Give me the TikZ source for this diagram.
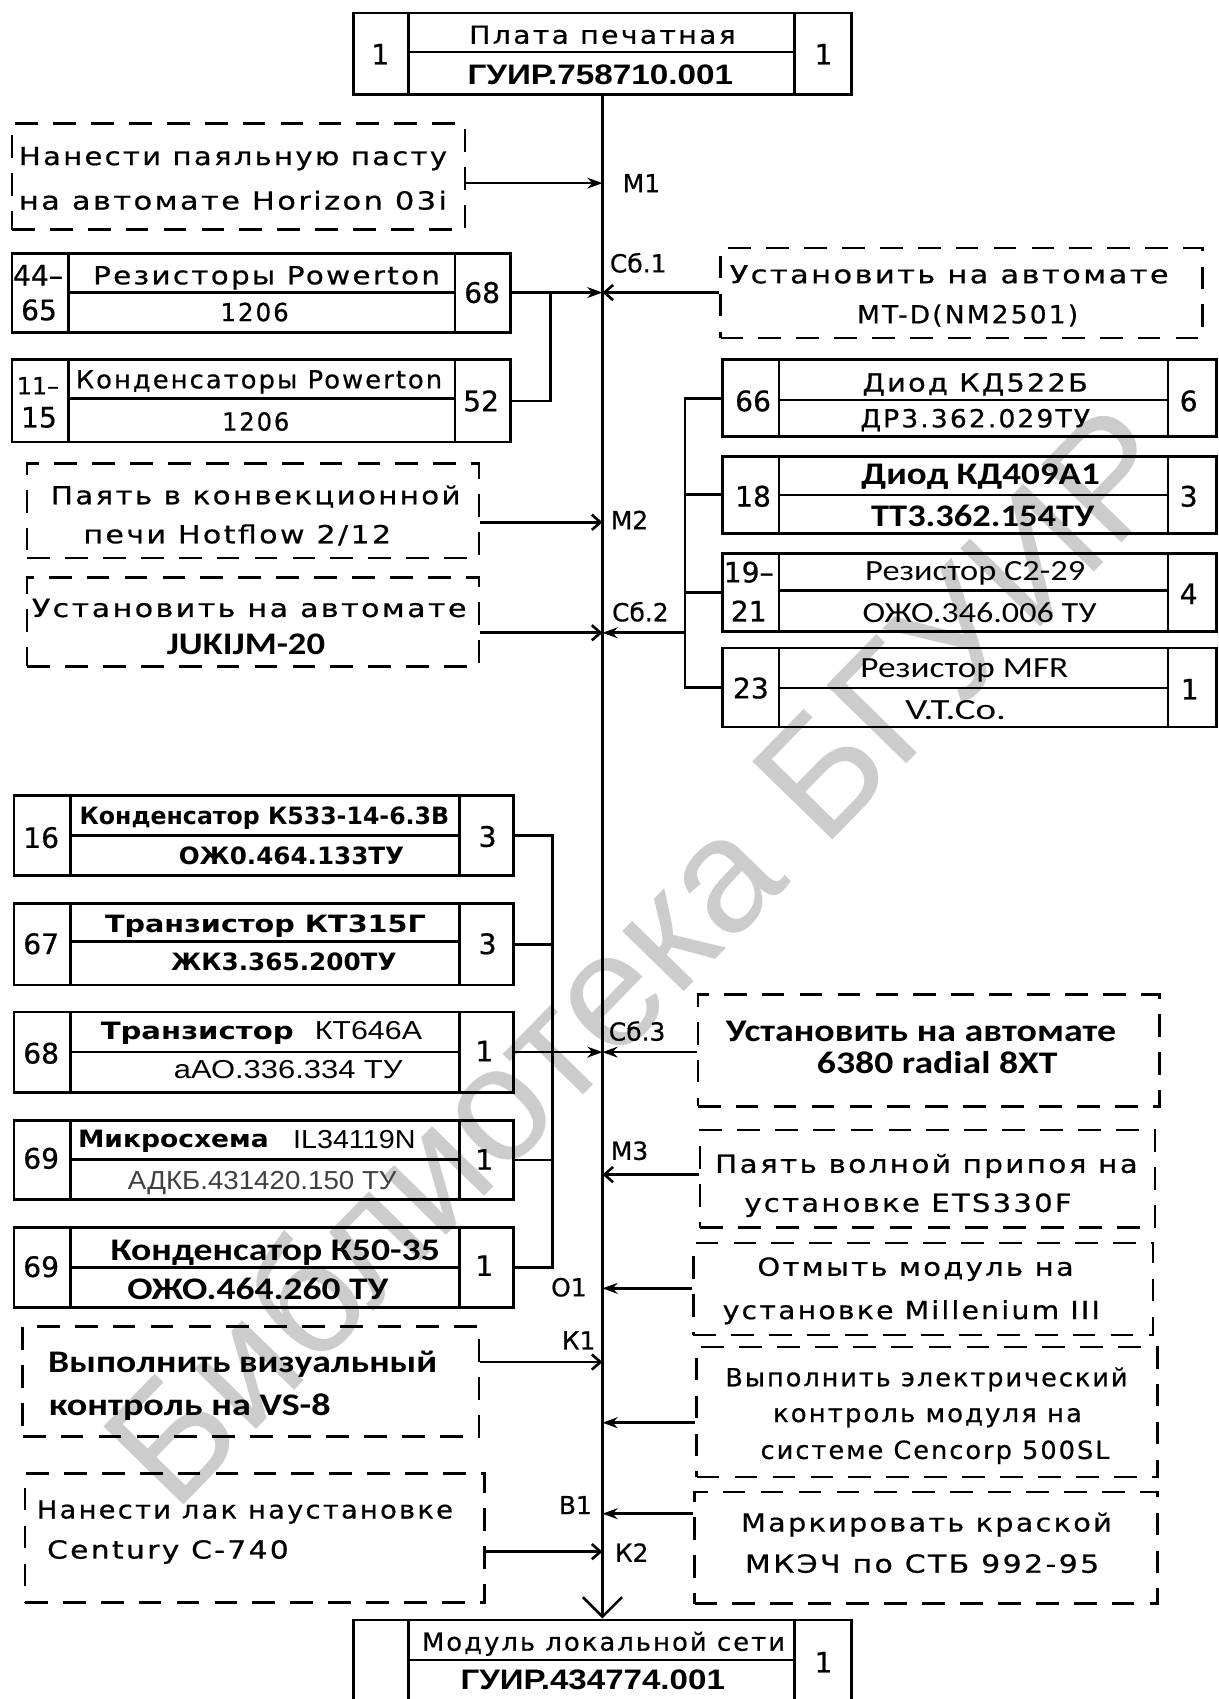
\documentclass[tikz,border=0pt]{standalone}
\usepackage{fontspec}
\usepackage{graphicx}
\setmainfont{DejaVu Sans}
\newfontfamily\gostfont[LetterSpace=8,FakeBold=0.6]{DejaVu Sans}
\newfontfamily\gostn[FakeBold=0.6]{DejaVu Sans}
\newfontfamily\gostb{DejaVu Sans}
\newfontfamily\calfont{Carlito}
\newfontfamily\arialfont{Liberation Sans}
\usetikzlibrary{arrows.meta,fit,calc}

\newcommand\fw[2]{\resizebox{#1pt}{\height}{#2}}
\newcommand\tx[6][]{\node[txt,#1] (#2) at (#3,#4) {\fw{#5}{#6}};}
\newcommand\nx[5][]{\node[txt,#1] (#2) at (#3,#4) {#5};}
\newcommand\tbl[8]{%
  \node[tbox, fit={(#2,#6)(#5,#8)}] (#1) {};
  \draw[ln] (#3,#6) -- (#3,#8) (#4,#6) -- (#4,#8) (#3,#7) -- (#4,#7);
}

\tikzset{
  ln/.style={line width=2.4pt},
  tbox/.style={draw, line width=2.6pt, inner sep=0pt},
  dbox/.style={draw, line width=2.4pt, inner sep=0pt, dash pattern=on 21pt off 14pt},
  fa/.style={ln, -{Stealth[length=14pt,width=10pt]}},
  oa/.style={ln, -{Straight Barb[length=8pt,width=14pt]}},
  bigv/.style={ln, -{Straight Barb[length=18pt,width=36pt]}},
  txt/.style={inner sep=0pt, anchor=base},
  g/.style={font=\gostfont\fontsize{23}{23}\selectfont, yshift=-8.4pt},
  gb/.style={font=\gostb\bfseries\fontsize{22}{22}\selectfont, yshift=-8pt},
  num/.style={font=\gostn\fontsize{26}{26}\selectfont, yshift=-9.5pt},
  lbl/.style={font=\gostn\fontsize{23}{23}\selectfont, yshift=-8.4pt},
  sml/.style={font=\gostn\fontsize{22}{22}\selectfont, yshift=-8pt},
  cb/.style={font=\calfont\bfseries\fontsize{29}{29}\selectfont, yshift=-9.3pt},
  cr/.style={font=\calfont\fontsize{27}{27}\selectfont, yshift=-8.7pt},
  ar/.style={font=\arialfont\fontsize{24}{24}\selectfont, yshift=-8.6pt},
  arb/.style={font=\arialfont\bfseries\fontsize{26}{26}\selectfont, yshift=-9.3pt},
  wm/.style={font=\arialfont\fontsize{150}{150}\selectfont, text=black!20, inner sep=0pt},
}

\begin{document}
\begin{tikzpicture}[x=1pt,y=-1pt]
\useasboundingbox (0,0) rectangle (1125,1568);
\clip (0,0) rectangle (1125,1568);
\fill[white] (0,0) rectangle (1125,1568);

% watermark
\node[wm, rotate=45.7] (wm) at (590,880) {Библиотека БГУИР};

% top and bottom
\tbl{top}{326}{377}{733}{786}{12}{48}{87}
\nx[num]{top1}{351}{50}{1}
\tx[g]{top2}{556}{32}{246}{Плата печатная}
\tx[arb]{top3}{554}{69}{245}{ГУИР.758710.001}
\nx[num]{top4}{760}{50}{1}

\tbl{bot}{326}{377}{733}{786}{1495}{1532}{1575}
\tx[g]{bot2}{557}{1515}{335}{Модуль локальной сети}
\tx[arb]{bot3}{547}{1550}{244}{ГУИР.434774.001}
\nx[num]{bot4}{760}{1534}{1}

% left upper
\node[dbox, fit={(11,114)(429,212)}] (d1) {};
\tx[g]{d1a}{215}{144}{395}{Нанести паяльную пасту}
\tx[g]{d1b}{215}{185}{395}{на автомате Horizon 03i}

\tbl{r44}{11}{63}{420}{471}{234}{270}{307}
\nx[num]{r44l}{35}{254}{44–}
\nx[num]{r44m}{36}{286}{65}
\tx[g]{r44a}{246}{254}{320}{Резисторы Powerton}
\tx[g]{r44b}{235}{288}{63}{1206}
\nx[num]{r44r}{445}{270}{68}

\tbl{r11}{11}{63}{420}{471}{332}{368}{408}
\nx[sml]{r11l}{35}{356}{11–}
\nx[num]{r11m}{36}{385}{15}
\tx[g]{r11a}{239}{350}{338}{Конденсаторы Powerton}
\tx[g]{r11b}{236}{389}{62}{1206}
\nx[num]{r11r}{444}{370}{52}

\node[dbox, fit={(25,428)(442,515)}] (d3) {};
\tx[g]{d3a}{236}{457}{378}{Паять в конвекционной}
\tx[g]{d3b}{219}{493}{284}{печи Hotflow 2/12}

\node[dbox, fit={(25,533)(442,615)}] (d4) {};
\tx[g]{d4a}{230}{561}{401}{Установить на автомате}
\tx[cb]{d4b}{227}{595}{146}{JUKIJM-20}

% right upper
\node[dbox, fit={(665,229)(1110,312)}] (d2) {};
\tx[g]{d2a}{876}{253}{405}{Установить на автомате}
\tx[g]{d2b}{893}{290}{204}{MT-D(NM2501)}

\tbl{R66}{667}{719}{1078}{1123}{332}{369}{403}
\nx[num]{R66l}{695}{370}{66}
\tx[g]{R66a}{900}{353}{208}{Диод КД522Б}
\tx[g]{R66b}{900}{386}{212}{ДР3.362.029ТУ}
\nx[num]{R66r}{1097}{370}{6}

\tbl{R18}{667}{719}{1078}{1123}{421}{457}{492}
\nx[num]{R18l}{695}{458}{18}
\tx[cb]{R18a}{905}{438}{220}{Диод КД409А1}
\tx[cb]{R18b}{907}{477}{206}{ТТ3.362.154ТУ}
\nx[num]{R18r}{1097}{458}{3}

\tbl{R19}{667}{719}{1078}{1123}{511}{545}{583}
\nx[num]{R19l}{691}{528}{19–}
\nx[num]{R19m}{691}{564}{21}
\tx[cr]{R19a}{900}{527}{203}{Резистор С2-29}
\tx[cr]{R19b}{904}{566}{216}{ОЖО.346.006 ТУ}
\nx[num]{R19r}{1097}{548}{4}

\tbl{R23}{667}{719}{1078}{1123}{598}{635}{671}
\nx[num]{R23l}{693}{635}{23}
\tx[cr]{R23a}{890}{617}{192}{Резистор MFR}
\tx[cr]{R23b}{882}{655}{93}{V.T.Co.}
\nx[num]{R23r}{1098}{636}{1}

% left lower tables
\tbl{L16}{13}{65}{424}{474}{734}{771}{808}
\nx[num]{L16l}{38}{773}{16}
\tx[gb]{L16a}{244}{753}{341}{Конденсатор К533-14-6.3В}
\tx[gb]{L16b}{269}{790}{208}{ОЖ0.464.133ТУ}
\nx[num]{L16r}{450}{772}{3}

\tbl{L67}{13}{65}{424}{474}{834}{869}{909}
\nx[num]{L67l}{38}{871}{67}
\tx[gb]{L67a}{245}{853}{296}{Транзистор КТ315Г}
\tx[gb]{L67b}{262}{888}{208}{ЖК3.365.200ТУ}
\nx[num]{L67r}{450}{871}{3}

\tbl{L68}{13}{65}{424}{474}{934}{971}{1008}
\nx[num]{L68l}{38}{972}{68}
\tx[gb]{L68a}{182}{951}{178}{Транзистор}
\tx[ar]{L68c}{340}{951}{99}{КТ646А}
\tx[ar]{L68b}{266}{987}{211}{аАО.336.334 ТУ}
\nx[num]{L68r}{447}{970}{1}

\tbl{L69}{13}{65}{424}{474}{1034}{1070}{1107}
\nx[num]{L69l}{38}{1069}{69}
\tx[gb]{L69a}{160}{1051}{176}{Микросхема}
\tx[ar]{L69c}{327}{1051}{113}{IL34119N}
\tx[ar,text=black!75]{L69b}{242}{1089}{248}{АДКБ.431420.150 ТУ}
\nx[num]{L69r}{447}{1070}{1}

\tbl{L70}{13}{65}{424}{474}{1133}{1170}{1207}
\nx[num]{L70l}{38}{1169}{69}
\tx[cb]{L70a}{254}{1154}{304}{Конденсатор К50-35}
\tx[cb]{L70b}{238}{1190}{241}{ОЖО.464.260 ТУ}
\nx[num]{L70r}{447}{1168}{1}

% right lower dashed
\node[dbox, fit={(644,918)(1070,1021)}] (d5) {};
\tx[cb]{d5a}{850}{952}{360}{Установить на автомате}
\tx[cb]{d5b}{865}{981}{222}{6380 radial 8XT}

\node[dbox, fit={(646,1043)(1066,1133)}] (d6) {};
\tx[g]{d6a}{855}{1074}{390}{Паять волной припоя на}
\tx[g]{d6b}{838}{1110}{302}{установке ETS330F}

\node[dbox, fit={(640,1147)(1064,1232)}] (d7) {};
\tx[g]{d7a}{845}{1169}{292}{Отмыть модуль на}
\tx[g]{d7b}{841}{1209}{348}{установке Millenium III}

\node[dbox, fit={(643,1243)(1068,1363)}] (d8) {};
\tx[g]{d8a}{855}{1271}{371}{Выполнить электрический}
\tx[g]{d8b}{856}{1304}{285}{контроль модуля на}
\tx[g]{d8c}{863}{1338}{322}{системе Cencorp 500SL}

\node[dbox, fit={(641,1377)(1068,1480)}] (d9) {};
\tx[g]{d9a}{855}{1405}{342}{Маркировать краской}
\tx[g]{d9b}{851}{1443}{327}{МКЭЧ по СТБ 992-95}

% left lower dashed
\node[dbox, fit={(21,1224)(442,1326)}] (d10) {};
\tx[cb]{d10a}{224}{1257}{359}{Выполнить визуальный}
\tx[cb]{d10b}{175}{1297}{260}{контроль на VS-8}

\node[dbox, fit={(23,1360)(447,1479)}] (d11) {};
\tx[g]{d11a}{226}{1393}{384}{Нанести лак наустановке}
\tx[g]{d11b}{155}{1430}{223}{Century C-740}

% labels
\nx[lbl]{lM1}{592}{169}{М1}
\nx[lbl]{lS1}{589}{243}{Сб.1}
\nx[lbl]{lM2}{581}{480}{М2}
\nx[lbl]{lS2}{591}{565}{Сб.2}
\nx[lbl]{lS3}{588}{952}{Сб.3}
\nx[lbl]{lM3}{581}{1062}{М3}
\nx[lbl]{lO1}{525}{1188}{О1}
\nx[lbl]{lK1}{534}{1237}{К1}
\nx[lbl]{lB1}{531}{1389}{В1}
\nx[lbl]{lK2}{583}{1433}{К2}

% main-line points
\coordinate (m1) at (556,169);
\coordinate (s1) at (556,270);
\coordinate (m2) at (556,482);
\coordinate (s2) at (556,584);
\coordinate (s3) at (556,971);
\coordinate (m3) at (556,1084);
\coordinate (o1) at (556,1189);
\coordinate (k1) at (556,1257);
\coordinate (e1) at (556,1313);
\coordinate (b1) at (556,1397);
\coordinate (k2) at (556,1432);
\coordinate (j1) at (508,270);
\coordinate (bx) at (632,0);
\coordinate (bx2) at (510,0);

% main line
\draw[bigv] (top.south) -- (bot.north);

% connectors
\draw[fa] (d1.east |- m1) -- (m1);
\draw[fa] (r44.east |- s1) -- (s1);
\draw[ln] (r11.east) -| (j1);
\draw[oa] (d2.west |- s1) -- (s1);
\draw[oa] (d3.east |- m2) -- (m2);
\draw[oa] (d4.east |- s2) -- (s2);
\draw[ln] (R66.west) -| (bx |- R23.west) -- (R23.west);
\draw[ln] (R18.west) -- (R18.west -| bx);
\draw[ln] (R19.west) -- (R19.west -| bx);
\draw[fa] (bx |- s2) -- (s2);
\draw[ln] (L16.east) -| (bx2 |- L70.east) -- (L70.east);
\draw[ln] (L67.east) -- (L67.east -| bx2);
\draw[ln] (L69.east) -- (L69.east -| bx2);
\draw[fa] (L68.east |- s3) -- (s3);
\draw[fa] (d5.west |- s3) -- (s3);
\draw[oa] (d6.west |- m3) -- (m3);
\draw[fa] (d7.west |- o1) -- (o1);
\draw[oa] (d10.east |- k1) -- (k1);
\draw[fa] (d8.west |- e1) -- (e1);
\draw[fa] (d9.west |- b1) -- (b1);
\draw[oa] (d11.east |- k2) -- (k2);
\end{tikzpicture}
\end{document}
